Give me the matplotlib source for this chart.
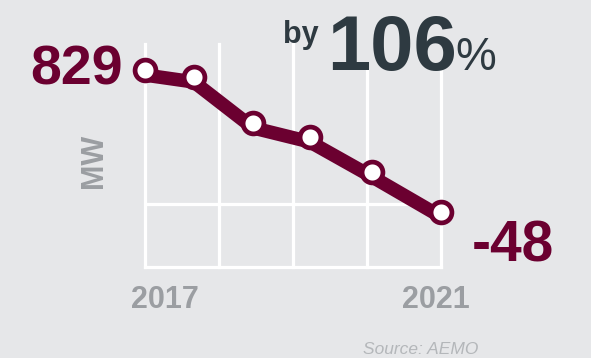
import matplotlib
matplotlib.use("Agg")
import matplotlib.pyplot as plt
import matplotlib.transforms as mtransforms
from matplotlib.patches import Rectangle

# capacity change, MW
years = [2017.0, 2017.66, 2018.46, 2019.23, 2020.07, 2021.0]
mw = [829, 786, 502, 415, 199, -48]
start_label = "829"
end_label = "-48"
headline = "106"
year_ticks = [2017, 2018, 2019, 2020, 2021]

bg = "#e6e7e9"
maroon = "#6b0030"
slate = "#2e3a41"
grey = "#9b9ea2"

W, H = 591, 358
plt.rcParams["font.family"] = ["Liberation Sans", "DejaVu Sans"]

fig = plt.figure(figsize=(W / 100, H / 100), dpi=100, facecolor=bg)
ax = fig.add_axes([145 / W, 1 - 267 / H, 296 / W, 223 / H])
ax.set_facecolor(bg)

def fx(px):
    return px / W

def fy(py):
    return 1 - py / H

# grid
ax.set_xlim(2017, 2021)
ax.set_ylim(-390, 990)
for yr in year_ticks:
    ax.axvline(yr, color="white", lw=2.3, zorder=1, clip_on=False)
ax.axhline(0, color="white", lw=2.3, zorder=1)
ax.axhline(-390, color="white", lw=2.3, zorder=1, clip_on=False)
for s in ax.spines.values():
    s.set_visible(False)
ax.set_xticks([])
ax.set_yticks([])

# thick line sits a few pixels below the markers
shifted = mtransforms.offset_copy(ax.transData, fig=fig, x=0, y=-5, units="dots")
ax.plot(years, mw, color=maroon, lw=9.8, transform=shifted,
        solid_joinstyle="miter", solid_capstyle="round", zorder=3, clip_on=False)
ax.plot(years, mw, ls="none", marker="o", ms=15, mew=3.4,
        mfc="white", mec=maroon, zorder=4, clip_on=False)

ax.annotate(start_label, xy=(years[0], mw[0]), xytext=(-16, 0),
            textcoords="offset points", ha="right", va="center",
            fontsize=40, fontweight="bold", color=maroon)
ax.annotate(end_label, xy=(years[-1], mw[-1]), xytext=(22, -25),
            textcoords="offset points", ha="left", va="center",
            fontsize=41, fontweight="bold", color=maroon)

# headline masks the tops of the grid lines
fig.add_artist(Rectangle((fx(280), fy(41)), 45 / W, 41 / H, transform=fig.transFigure,
                         facecolor=bg, edgecolor="none", zorder=2))
fig.add_artist(Rectangle((fx(325), fy(69)), 180 / W, 69 / H, transform=fig.transFigure,
                         facecolor=bg, edgecolor="none", zorder=2))
fig.text(fx(283), fy(43), "by", ha="left", va="baseline", fontsize=22,
         fontweight="bold", color=slate, zorder=5)
fig.text(fx(327), fy(70), headline, ha="left", va="baseline", fontsize=56,
         fontweight="bold", color=slate, zorder=5)
fig.text(fx(455), fy(70), "%", ha="left", va="baseline", fontsize=33,
         color=slate, zorder=5)

fig.text(fx(165), fy(300), str(year_ticks[0]), ha="center", va="center",
         fontsize=22, fontweight="bold", color=grey)
fig.text(fx(436), fy(300), str(year_ticks[-1]), ha="center", va="center",
         fontsize=22, fontweight="bold", color=grey)
fig.text(fx(94), fy(161), "MW", ha="center", va="center", rotation=90,
         fontsize=22, fontweight="bold", color=grey)
fig.text(fx(363), fy(354), "Source: AEMO", ha="left", va="baseline",
         fontsize=12.5, style="italic", color="#b4b7ba")

fig.savefig("out.png", dpi=100, facecolor=bg)
